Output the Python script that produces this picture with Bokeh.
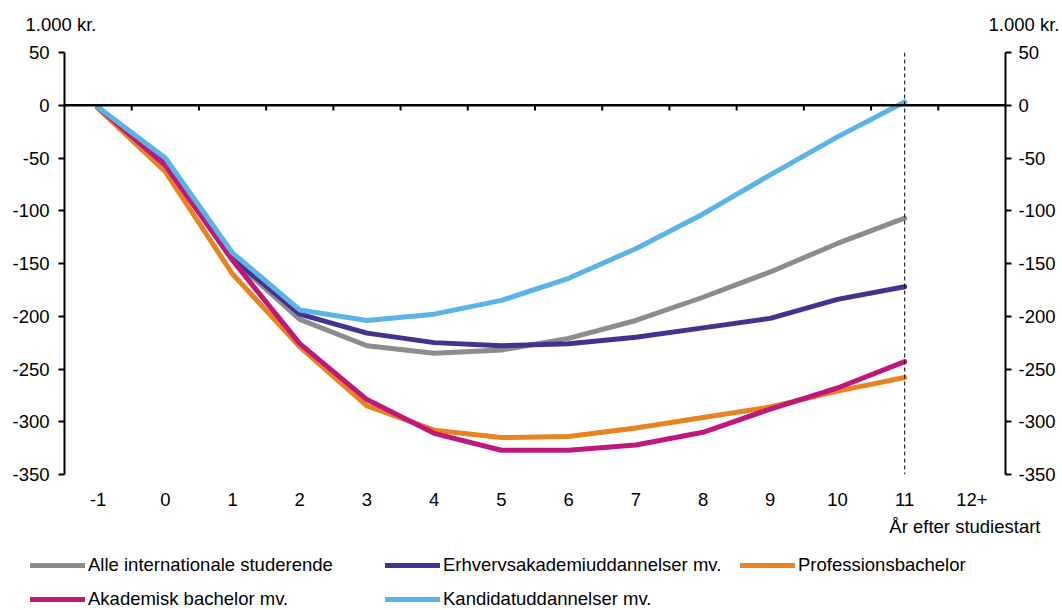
from bokeh.plotting import figure
from bokeh.layouts import column
from bokeh.models import (Range1d, LinearAxis, FixedTicker, Span, Label, Legend,
                          LegendItem, Title)
from bokeh.embed import file_html
from bokeh.resources import INLINE

# ---------------- data ----------------
categories = ["-1", "0", "1", "2", "3", "4", "5", "6", "7", "8", "9", "10", "11", "12+"]
years = categories[:13]

alle = [-2, -55, -146, -203, -228, -235, -232, -221, -204, -182, -158, -131, -107]
erhverv = [-2, -55, -145, -198, -216, -225, -228, -226, -220, -211, -202, -184, -172]
profession = [-3, -63, -160, -229, -285, -308, -315, -314, -306, -296, -286, -271, -258]
akademisk = [-2, -57, -147, -226, -279, -311, -327, -327, -322, -310, -288, -268, -243]
kandidat = [-2, -50, -140, -194, -204, -198, -185, -164, -136, -103, -66, -30, 3]

series_names = ["Alle internationale studerende", "Erhvervsakademiuddannelser mv.",
                "Professionsbachelor", "Akademisk bachelor mv.", "Kandidatuddannelser mv."]
series_values = [alle, erhverv, profession, akademisk, kandidat]
series_colors = ["#8C8C8C", "#46318E", "#E8841F", "#C0187A", "#5AB4E5"]

y_ticks = [-350, -300, -250, -200, -150, -100, -50, 0, 50]
unit_label = "1.000 kr."
x_title = "År efter studiestart"
marker_year = "11"

FONT = "Liberation Sans"
FS = "18.5px"
W = 1062
HEAD_H, MAIN_H, LEG_H = 40, 505, 65


def bare_figure(h):
    f = figure(width=W, height=h, output_backend="svg", toolbar_location=None,
               x_axis_location=None, y_axis_location=None,
               x_range=Range1d(0, W), y_range=Range1d(h, 0),
               min_border=0, frame_align=False)
    f.outline_line_color = None
    f.grid.visible = False
    return f


# ---------------- header with unit labels ----------------
head = bare_figure(HEAD_H)
for xx in (25, 988):
    head.add_layout(Label(x=xx, y=24, text=unit_label, text_align="left",
                          text_baseline="middle", text_font=FONT,
                          text_font_size=FS, text_color="black"))

# ---------------- main chart ----------------
p = figure(width=W, height=MAIN_H, output_backend="svg", toolbar_location=None,
           x_range=Range1d(-0.5, len(categories) - 0.5),
           y_range=Range1d(min(y_ticks), max(y_ticks)),
           min_border_left=64, min_border_right=57, min_border_top=12,
           min_border_bottom=71, frame_align=False)
p.outline_line_color = None
p.grid.visible = False

xpos = {c: i for i, c in enumerate(categories)}

xa = p.xaxis[0]
xa.ticker = FixedTicker(ticks=list(range(len(categories))))
xa.major_label_overrides = {i: c for i, c in enumerate(categories)}
xa.axis_line_color = None
xa.major_tick_line_color = None
xa.minor_tick_line_color = None
xa.major_label_standoff = 12
xa.major_label_text_font = FONT
xa.major_label_text_font_size = FS
xa.major_label_text_color = "black"


def style_y(ax, standoff):
    ax.ticker = FixedTicker(ticks=y_ticks)
    ax.major_label_overrides = {v: str(v) for v in y_ticks}
    ax.axis_line_width = 2
    ax.axis_line_color = "black"
    ax.major_tick_line_width = 2
    ax.major_tick_line_color = "black"
    ax.major_tick_out = 6
    ax.major_tick_in = 0
    ax.minor_tick_line_color = None
    ax.major_label_standoff = standoff
    ax.major_label_text_font = FONT
    ax.major_label_text_font_size = FS
    ax.major_label_text_color = "black"


style_y(p.yaxis[0], 9)
ra = LinearAxis()
style_y(ra, 7)
p.add_layout(ra, "right")

# zero line with category boundary ticks
p.add_layout(Span(location=0, dimension="width", line_color="black", line_width=2.5))
bounds = [i + 0.5 for i in range(len(categories) - 1)]
p.segment(x0=bounds, y0=[0] * len(bounds), x1=bounds, y1=[-5] * len(bounds),
          line_color="black", line_width=2)

# dashed marker line
p.add_layout(Span(location=xpos[marker_year], dimension="height", line_color="black",
                  line_width=1, line_dash="4 3"))

xs = [xpos[y] for y in years]
for vals, col in zip(series_values, series_colors):
    p.line(xs, vals, line_color=col, line_width=5, line_cap="round", line_join="round")

p.add_layout(Title(text=x_title, align="right", offset=-35, standoff=10,
                   text_font=FONT, text_font_size=FS, text_font_style="normal",
                   text_color="black"), "below")

# ---------------- legend strip ----------------
leg = bare_figure(LEG_H)
items = []
for name, col in zip(series_names, series_colors):
    r = leg.line(x=[float("nan")], y=[float("nan")], line_color=col, line_width=5,
                 line_cap="round")
    items.append(LegendItem(label=name, renderers=[r]))
legend = Legend(items=items, location=(30, 0), orientation="horizontal", ncols=3,
                glyph_width=55, glyph_height=20, label_height=20, label_width=285,
                spacing=12, label_standoff=3, padding=0, margin=0,
                border_line_color=None, background_fill_alpha=0,
                label_text_font=FONT, label_text_font_size=FS,
                label_text_color="black")
leg.add_layout(legend, "center")

layout = column(head, p, leg, spacing=0)
open("out.html", "w").write(file_html(layout, INLINE))
